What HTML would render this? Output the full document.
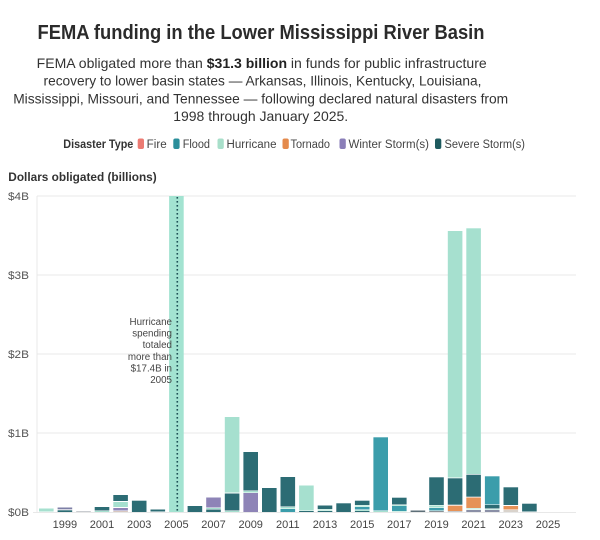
<!DOCTYPE html>
<html><head><meta charset="utf-8"><style>
html,body{margin:0;padding:0;background:#fff;}
svg{display:block;}
text{font-family:"Liberation Sans",sans-serif;}
</style></head><body>
<svg width="600" height="540" viewBox="0 0 600 540" xmlns="http://www.w3.org/2000/svg">
<rect width="600" height="540" fill="#fff"/>
<!-- Title -->
<text x="261" y="39" text-anchor="middle" font-size="20" font-weight="bold" fill="#2b2b2b" textLength="447" lengthAdjust="spacingAndGlyphs">FEMA funding in the Lower Mississippi River Basin</text>
<g font-size="14" fill="#333" text-anchor="middle">
<text x="261.7" y="68" textLength="450" lengthAdjust="spacingAndGlyphs">FEMA obligated more than <tspan font-weight="bold" fill="#222">$31.3 billion</tspan> in funds for public infrastructure</text>
<text x="262.5" y="85.7" textLength="438" lengthAdjust="spacingAndGlyphs">recovery to lower basin states — Arkansas, Illinois, Kentucky, Louisiana,</text>
<text x="260.7" y="103.3" textLength="495" lengthAdjust="spacingAndGlyphs">Mississippi, Missouri, and Tennessee — following declared natural disasters from</text>
<text x="260.7" y="121" textLength="175" lengthAdjust="spacingAndGlyphs">1998 through January 2025.</text>
</g>
<!-- Legend -->
<g font-size="11.5" fill="#444">
<text x="63.3" y="148" font-weight="bold" fill="#333" textLength="70" lengthAdjust="spacingAndGlyphs">Disaster Type</text>
<rect x="137.7" y="138.5" width="6.3" height="10.5" rx="2" fill="#ec7b73"/>
<text x="146.7" y="148" textLength="20" lengthAdjust="spacingAndGlyphs">Fire</text>
<rect x="173.3" y="138.5" width="6.3" height="10.5" rx="2" fill="#2b8f9b"/>
<text x="182.7" y="148" textLength="27.3" lengthAdjust="spacingAndGlyphs">Flood</text>
<rect x="217.5" y="138.5" width="6.3" height="10.5" rx="2" fill="#a8dfca"/>
<text x="226.5" y="148" textLength="50" lengthAdjust="spacingAndGlyphs">Hurricane</text>
<rect x="282.5" y="138.5" width="6.3" height="10.5" rx="2" fill="#e48a4c"/>
<text x="290.5" y="148" textLength="39.5" lengthAdjust="spacingAndGlyphs">Tornado</text>
<rect x="339.5" y="138.5" width="6.3" height="10.5" rx="2" fill="#8a7eb8"/>
<text x="348.5" y="148" textLength="80.5" lengthAdjust="spacingAndGlyphs">Winter Storm(s)</text>
<rect x="435" y="138.5" width="6.3" height="10.5" rx="2" fill="#1e5a5e"/>
<text x="444.5" y="148" textLength="80.5" lengthAdjust="spacingAndGlyphs">Severe Storm(s)</text>
</g>
<!-- Axis title -->
<text x="8.3" y="181" font-size="12" font-weight="bold" fill="#333" textLength="148.4" lengthAdjust="spacingAndGlyphs">Dollars obligated (billions)</text>
<!-- gridlines -->
<g stroke="#e8e8e8" stroke-width="1">
<line x1="37" y1="196" x2="576" y2="196"/>
<line x1="37" y1="275" x2="576" y2="275"/>
<line x1="37" y1="354" x2="576" y2="354"/>
<line x1="37" y1="433" x2="576" y2="433"/>
<line x1="33" y1="512.5" x2="576" y2="512.5"/>
<line x1="37" y1="196" x2="37" y2="512"/>
</g>
<g font-size="11" fill="#555">
<text x="8" y="200" textLength="21" lengthAdjust="spacingAndGlyphs">$4B</text>
<text x="8" y="279" textLength="21" lengthAdjust="spacingAndGlyphs">$3B</text>
<text x="8" y="358" textLength="21" lengthAdjust="spacingAndGlyphs">$2B</text>
<text x="8" y="437" textLength="21" lengthAdjust="spacingAndGlyphs">$1B</text>
<text x="8" y="516" textLength="21" lengthAdjust="spacingAndGlyphs">$0B</text>
</g>
<!-- Bars -->
<g>
<!-- 1998 -->
<rect x="39" y="508.5" width="14.6" height="3" fill="#a6e0cf"/>
<!-- 1999 -->
<rect x="57.6" y="507.5" width="14.6" height="1.8" fill="#7d7fa6"/>
<rect x="57.6" y="510.3" width="14.6" height="1.7" fill="#2c6c74"/>
<!-- 2000 -->
<rect x="76.2" y="511" width="14.6" height="1" fill="#c9ccd0"/>
<!-- 2001 -->
<rect x="94.7" y="507" width="14.6" height="3.5" fill="#2c6c74"/>
<rect x="94.7" y="511" width="14.6" height="1" fill="#a6e0cf"/>
<!-- 2002 -->
<rect x="113.3" y="495" width="14.6" height="6" fill="#2c6c74"/>
<rect x="113.3" y="502" width="14.6" height="5" fill="#a6e0cf"/>
<rect x="113.3" y="508" width="14.6" height="2.5" fill="#8e84b7"/>
<rect x="113.3" y="511" width="14.6" height="1" fill="#d8c8c0"/>
<!-- 2003 -->
<rect x="131.9" y="500.7" width="14.6" height="11.3" fill="#2c6c74"/>
<!-- 2004 -->
<rect x="150.5" y="509.5" width="14.6" height="2" fill="#2c6c74"/>
<!-- 2005 -->
<rect x="169.1" y="196" width="14.6" height="316" fill="#a3e3d1"/>
<!-- 2006 -->
<rect x="187.6" y="506" width="14.6" height="6" fill="#2c6c74"/>
<!-- 2007 -->
<rect x="206.2" y="497.5" width="14.6" height="10" fill="#8e84b7"/>
<rect x="206.2" y="508" width="14.6" height="1" fill="#a6e0cf"/>
<rect x="206.2" y="509.5" width="14.6" height="2.5" fill="#2c6c74"/>
<!-- 2008 -->
<rect x="224.8" y="417" width="14.6" height="75.5" fill="#a6e0cf"/>
<rect x="224.8" y="493.5" width="14.6" height="17" fill="#2c6c74"/>
<rect x="224.8" y="511" width="14.6" height="1" fill="#a6e0cf"/>
<!-- 2009 -->
<rect x="243.4" y="452" width="14.6" height="38.5" fill="#2c6c74"/>
<rect x="243.4" y="491" width="14.6" height="1.5" fill="#a6e0cf"/>
<rect x="243.4" y="493" width="14.6" height="19" fill="#8e84b7"/>
<!-- 2010 -->
<rect x="262" y="488" width="14.6" height="24" fill="#2c6c74"/>
<!-- 2011 -->
<rect x="280.5" y="477" width="14.6" height="29.5" fill="#2c6c74"/>
<rect x="280.5" y="507" width="14.6" height="1.5" fill="#a6e0cf"/>
<rect x="280.5" y="509" width="14.6" height="3" fill="#3b9dab"/>
<!-- 2012 -->
<rect x="299.1" y="485.5" width="14.6" height="25" fill="#a6e0cf"/>
<rect x="299.1" y="511" width="14.6" height="1" fill="#2c6c74"/>
<!-- 2013 -->
<rect x="317.7" y="505.5" width="14.6" height="3.5" fill="#2c6c74"/>
<rect x="317.7" y="509.5" width="14.6" height="1" fill="#a6e0cf"/>
<rect x="317.7" y="511" width="14.6" height="1" fill="#2c6c74"/>
<!-- 2014 -->
<rect x="336.3" y="503.3" width="14.6" height="8.7" fill="#2c6c74"/>
<!-- 2015 -->
<rect x="354.9" y="500.7" width="14.6" height="4.3" fill="#2c6c74"/>
<rect x="354.9" y="505.5" width="14.6" height="1" fill="#a6e0cf"/>
<rect x="354.9" y="507" width="14.6" height="2.5" fill="#3b9dab"/>
<rect x="354.9" y="510" width="14.6" height="0.8" fill="#a6e0cf"/>
<rect x="354.9" y="511" width="14.6" height="1" fill="#2c6c74"/>
<!-- 2016 -->
<rect x="373.4" y="437.3" width="14.6" height="73.2" fill="#3b9dab"/>
<rect x="373.4" y="511" width="14.6" height="1" fill="#a6e0cf"/>
<!-- 2017 -->
<rect x="392" y="497.7" width="14.6" height="6.8" fill="#2c6c74"/>
<rect x="392" y="505" width="14.6" height="0.7" fill="#a6e0cf"/>
<rect x="392" y="506" width="14.6" height="5" fill="#3b9dab"/>
<rect x="392" y="511.5" width="14.6" height="0.5" fill="#a6e0cf"/>
<!-- 2018 -->
<rect x="410.6" y="510.5" width="14.6" height="1.5" fill="#5d6f78"/>
<!-- 2019 -->
<rect x="429.2" y="477.3" width="14.6" height="27.7" fill="#2c6c74"/>
<rect x="429.2" y="505.5" width="14.6" height="2" fill="#a6e0cf"/>
<rect x="429.2" y="508" width="14.6" height="2.5" fill="#3b9dab"/>
<rect x="429.2" y="511" width="14.6" height="1" fill="#8a9298"/>
<!-- 2020 -->
<rect x="447.8" y="231" width="14.6" height="246.5" fill="#a6e0cf"/>
<rect x="447.8" y="478.3" width="14.6" height="26.4" fill="#2c6c74"/>
<rect x="447.8" y="505.7" width="14.6" height="5.3" fill="#e69257"/>
<rect x="447.8" y="511.5" width="14.6" height="0.5" fill="#8a9298"/>
<!-- 2021 -->
<rect x="466.3" y="228.3" width="14.6" height="245.7" fill="#a6e0cf"/>
<rect x="466.3" y="474.7" width="14.6" height="22" fill="#2c6c74"/>
<rect x="466.3" y="497.5" width="14.6" height="10.5" fill="#e69257"/>
<rect x="466.3" y="508.5" width="14.6" height="0.8" fill="#a6e0cf"/>
<rect x="466.3" y="510" width="14.6" height="2" fill="#8a8fa6"/>
<!-- 2022 -->
<rect x="484.9" y="476.3" width="14.6" height="28.2" fill="#3b9dab"/>
<rect x="484.9" y="505" width="14.6" height="3.5" fill="#2c6c74"/>
<rect x="484.9" y="509" width="14.6" height="0.5" fill="#a6e0cf"/>
<rect x="484.9" y="510" width="14.6" height="2" fill="#8a8fa6"/>
<!-- 2023 -->
<rect x="503.5" y="487.3" width="14.6" height="17.7" fill="#2c6c74"/>
<rect x="503.5" y="506" width="14.6" height="3.5" fill="#e69257"/>
<rect x="503.5" y="510" width="14.6" height="2" fill="#d9d3cc"/>
<!-- 2024 -->
<rect x="522.1" y="503.7" width="14.6" height="7.8" fill="#2c6c74"/>
</g>
<!-- dotted annotation line -->
<line x1="177.3" y1="197" x2="177.3" y2="512" stroke="#1d4f55" stroke-width="1.6" stroke-dasharray="1.6,2.4"/>
<g font-size="9.8" fill="#444" text-anchor="end">
<text x="172" y="325">Hurricane</text>
<text x="172" y="336.6">spending</text>
<text x="172" y="348.2">totaled</text>
<text x="172" y="359.8">more than</text>
<text x="172" y="371.4">$17.4B in</text>
<text x="172" y="383">2005</text>
</g>
<!-- x labels -->
<g font-size="11" fill="#444" text-anchor="middle">
<text x="64.9" y="528">1999</text>
<text x="102" y="528">2001</text>
<text x="139.2" y="528">2003</text>
<text x="176.4" y="528">2005</text>
<text x="213.5" y="528">2007</text>
<text x="250.7" y="528">2009</text>
<text x="287.8" y="528">2011</text>
<text x="325" y="528">2013</text>
<text x="362.2" y="528">2015</text>
<text x="399.3" y="528">2017</text>
<text x="436.5" y="528">2019</text>
<text x="473.6" y="528">2021</text>
<text x="510.8" y="528">2023</text>
<text x="548" y="528">2025</text>
</g>
</svg>
</body></html>
